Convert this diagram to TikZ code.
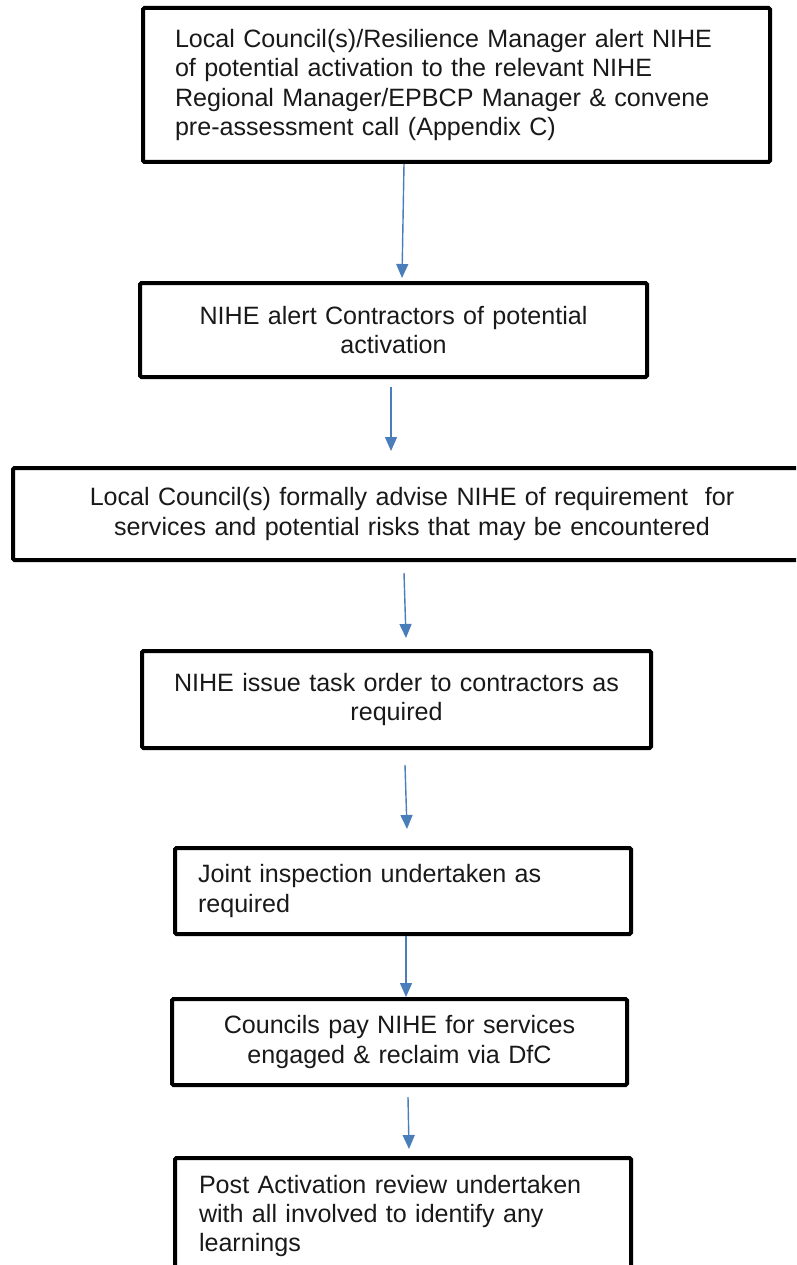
\documentclass[tikz,border=0pt]{standalone}
\usepackage{fontspec}
\setmainfont{Liberation Sans}
\usetikzlibrary{arrows.meta}
\definecolor{flowblue}{RGB}{74,126,187}
\begin{document}
\begin{tikzpicture}[x=1pt, y=-1pt,
        box/.style={draw, line width=4pt, rounded corners=1.5pt, inner ysep=0pt,
            font=\fontsize{25.1}{29.3}\selectfont, text=black!90},
        flow/.style={draw=flowblue, line width=1.4pt, -{Triangle[width=12pt,length=14pt]}}]
        \useasboundingbox (0,0) rectangle (796,1265);
        \clip (0,0) rectangle (796,1265);
        % steps
        \node[box, minimum width=627, minimum height=154, inner xsep=32, text width=563, align=left] (alert) at (456.5,85)
            {Local Council(s)/Resilience Manager alert NIHE\\of potential activation to the relevant NIHE\\Regional Manager/EPBCP Manager \& convene\\pre-assessment call (Appendix C)};
        \node[box, minimum width=507, minimum height=94, inner xsep=13, text width=481, align=center] (contr) at (393.5,330)
            {NIHE alert Contractors of potential\\activation};
        \node[box, minimum width=798, minimum height=92, inner xsep=13, text width=772, align=center] (advise) at (412,514)
            {Local Council(s) formally advise NIHE of requirement\ \ for\\services and potential risks that may be encountered};
        \node[box, minimum width=509, minimum height=97, inner xsep=13, text width=483, align=center] (task) at (396.5,699.5)
            {NIHE issue task order to contractors as\\required};
        \node[box, minimum width=456, minimum height=86, inner xsep=23, text width=410, align=left] (insp) at (403,891)
            {Joint inspection undertaken as\\required};
        \node[box, minimum width=455, minimum height=86, inner xsep=13, text width=429, align=center] (pay) at (399.5,1042)
            {Councils pay NIHE for services\\engaged \& reclaim via DfC};
        \node[box, minimum width=456, minimum height=116, inner xsep=24, text width=408, align=left] (review) at (403,1216)
            {Post Activation review undertaken\\with all involved to identify any\\learnings};
        % arrow ends
        \coordinate (a1) at (404,164);   \coordinate (b1) at (402,278);
        \coordinate (a2) at (391,387);   \coordinate (b2) at (391,451);
        \coordinate (a3) at (404,573);   \coordinate (b3) at (406,638);
        \coordinate (a4) at (405,765);   \coordinate (b4) at (407,829);
        \coordinate (a5) at (406,936);   \coordinate (b5) at (406,997);
        \coordinate (a6) at (408,1097);  \coordinate (b6) at (409,1149);
        \foreach \i in {1,...,6}
            \draw[flow] (a\i) -- (b\i);
    \end{tikzpicture}
\end{document}
